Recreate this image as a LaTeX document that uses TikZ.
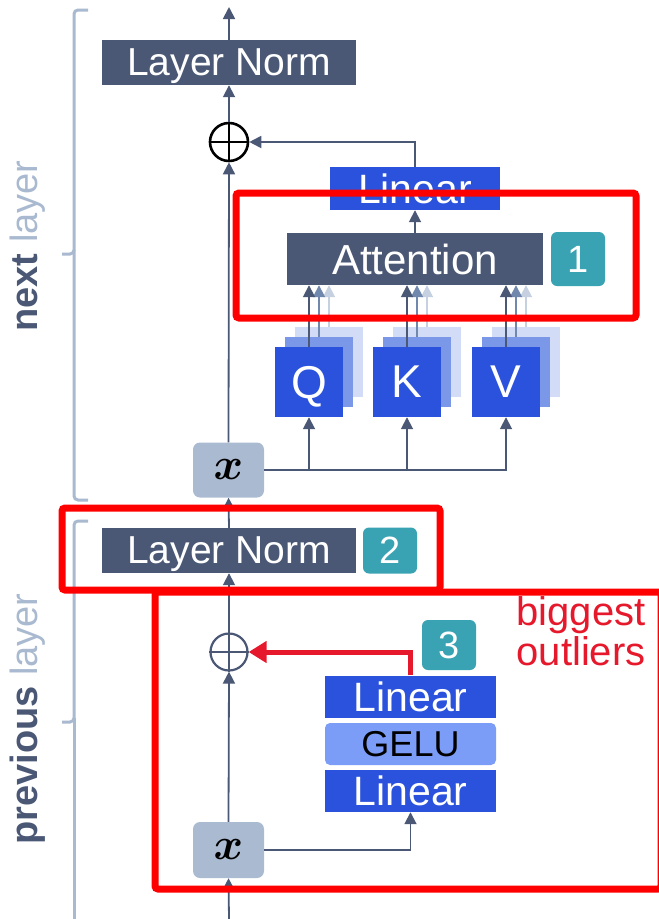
\documentclass[tikz,border=0pt]{standalone}
\usepackage{fontspec}
\setmainfont{Liberation Sans}
\usepackage{amsmath}
\usetikzlibrary{arrows.meta}
\definecolor{slate}{RGB}{74,88,117}
\definecolor{lblue}{RGB}{42,82,221}
\definecolor{mblue}{RGB}{123,151,232}
\definecolor{pblue}{RGB}{211,220,246}
\definecolor{gelu}{RGB}{123,156,247}
\definecolor{teal}{RGB}{58,163,179}
\definecolor{xbox}{RGB}{170,186,208}
\definecolor{brace}{RGB}{169,185,208}
\definecolor{marr}{RGB}{112,136,173}
\definecolor{larr}{RGB}{197,208,224}
\definecolor{hired}{RGB}{255,0,0}
\definecolor{arred}{RGB}{230,25,44}
\newcommand{\bigx}{\scalebox{2.6}{$\boldsymbol{x}$}}
\begin{document}
\begin{tikzpicture}[x=1pt,y=-1pt,
  box/.style={rectangle, inner sep=0pt, text=white, text depth=0pt},
  ln/.style={box, fill=slate, minimum width=254pt, minimum height=45pt, font=\fontsize{39}{39}\selectfont},
  linbox/.style={box, fill=lblue, minimum width=171pt, minimum height=42pt, font=\fontsize{41}{41}\selectfont},
  badge/.style={box, fill=teal, rounded corners=6pt, minimum width=54pt, font=\fontsize{38}{38}\selectfont},
  xnode/.style={rectangle, inner sep=0pt, fill=xbox, rounded corners=7pt, minimum width=71pt, minimum height=55pt, font=\fontsize{17}{17}\selectfont},
  qkv/.style={box, minimum width=68pt, minimum height=70pt, font=\fontsize{46}{46}\selectfont},
  conn/.style={draw=slate, line width=1.8pt},
  arr/.style={conn, -{Triangle[length=12pt,width=12pt]}},
  redbox/.style={draw=hired, line width=7pt, rounded corners=3pt},
  bracestyle/.style={draw=brace, line width=3pt, rounded corners=4pt}
]
\useasboundingbox (0,0) rectangle (659,919);

% braces
\draw[bracestyle] (88,10) -- (74,10) -- (74,254) -- (62,254);
\draw[bracestyle] (74,250) -- (74,500) -- (88,500);
\draw[bracestyle] (88,521) -- (74,521) -- (74,722) -- (62,722);
\draw[bracestyle] (74,718) -- (74,925);

% side labels
\node[rotate=90, anchor=south, inner sep=0pt, font=\fontsize{38}{38}\selectfont] (nextlbl) at (46,246) {\textcolor{slate}{\bfseries next} \textcolor{brace}{layer}};
\node[rotate=90, anchor=south, inner sep=0pt, font=\fontsize{38}{38}\selectfont] (prevlbl) at (46,719) {\textcolor{slate}{\bfseries previous} \textcolor{brace}{layer}};

% ---------- next layer ----------
\node[ln] (ln1) at (229,62.5) {Layer Norm};
\coordinate (top) at (229,7);
\node[circle, draw=black, line width=2.6pt, minimum size=38pt, inner sep=0pt] (op1) at (229,142) {};
\draw[black, line width=2.6pt] (op1.north) -- (op1.south) (op1.west) -- (op1.east);
\node[linbox, minimum width=170pt, minimum height=43pt] (lin1) at (415,188.5) {Linear};
\node[box, fill=slate, minimum width=256pt, minimum height=52pt, font=\fontsize{42}{42}\selectfont] (att) at (415,259) {Attention};
\node[badge, minimum height=54pt] (b1) at (578,259) {1};

% Q K V stacks
\foreach \n/\cx/\t in {q/309/Q, k/407/K, v/506/V}{
  \node[qkv, fill=pblue] (\n3) at (\cx+20,362) {};
  \node[qkv, fill=mblue] (\n2) at (\cx+10,372) {};
  \node[qkv, fill=lblue] (\n1) at (\cx,382) {\t};
}
\node[xnode] (x1) at (228.5,470) {\bigx};

\draw[arr] (ln1.north) -- (top);
\draw[arr] (op1.north) -- (ln1.south);
\draw[arr] (x1.north) -- (op1.south);
\draw[arr] (lin1.north) |- (op1.east);
\draw[arr] (att.north -| lin1.south) -- (lin1.south);
\foreach \n in {q,k,v}{
  \draw[arr, draw=larr] (\n3.north) -- (\n3.north |- att.south);
  \draw[arr, draw=marr] (\n2.north) -- (\n2.north |- att.south);
  \draw[arr] (\n1.north) -- (\n1.north |- att.south);
  \draw[arr] (x1.east) -| (\n1.south);
}

% ---------- previous layer ----------
\node[ln] (ln2) at (229,550.5) {Layer Norm};
\node[badge, minimum height=46pt] (b2) at (390,550.5) {2};
\node[circle, draw=slate, line width=2.2pt, minimum size=37pt, inner sep=0pt] (op2) at (229,652) {};
\draw[slate, line width=2.2pt] (op2.north) -- (op2.south) (op2.west) -- (op2.east);
\node[badge, minimum height=50pt] (b3) at (449,645) {3};
\node[linbox] (lin2) at (410.5,696.5) {Linear};
\node[box, fill=gelu, text=black, rounded corners=5pt, minimum width=171pt, minimum height=42pt, font=\fontsize{36}{36}\selectfont] (gelu) at (410.5,744) {GELU};
\node[linbox] (lin3) at (410.5,791) {Linear};
\node[xnode, minimum height=56pt] (x2) at (228.5,850) {\bigx};
\coordinate (bot) at (229,919);

\draw[arr] (ln2.north) -- (x1.south);
\draw[arr] (op2.north) -- (ln2.south);
\draw[arr] (x2.north) -- (op2.south);
\draw[arr] (bot) -- (x2.south);
\draw[arr] (x2.east) -| (lin3.south);
\draw[draw=arred, line width=5pt, -{Triangle[length=18pt,width=21pt]}] (lin2.north) |- (op2.east);

\node[text=arred, align=center, inner sep=0pt, font=\fontsize{40}{40}\selectfont] (outl) at (581,631) {biggest\\outliers};

% red highlight boxes
\draw[redbox] (236,193) rectangle (636,318);
\draw[redbox] (62,508) rectangle (440,590);
\draw[redbox] (155,592) rectangle (661,889);
\end{tikzpicture}
\end{document}
